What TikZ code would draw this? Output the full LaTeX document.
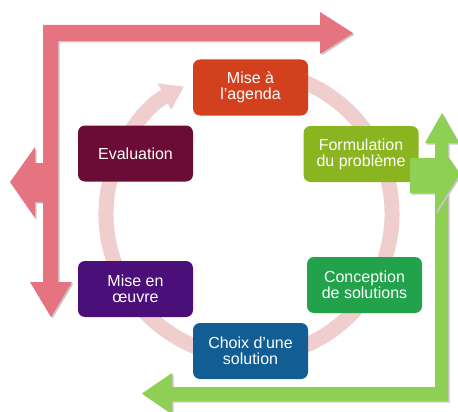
\documentclass[tikz,border=0pt]{standalone}
\usepackage{fontspec}
\setmainfont{Liberation Sans}
\usepackage{xcolor}
\usepackage{tikz}
\usetikzlibrary{arrows.meta}

\definecolor{arrowpink}{RGB}{229,116,128}
\definecolor{arrowgreen}{RGB}{142,208,83}
\definecolor{ringpink}{RGB}{240,206,206}
\definecolor{agendared}{RGB}{210,64,30}
\definecolor{formolive}{RGB}{138,181,32}
\definecolor{concgreen}{RGB}{34,162,74}
\definecolor{choixblue}{RGB}{18,94,148}
\definecolor{oeuvrepurple}{RGB}{74,15,120}
\definecolor{evalmaroon}{RGB}{106,12,53}

\tikzset{
    stagebox/.style={rounded corners=7pt, minimum width=115pt, minimum height=56pt,
        text=white, align=center, inner sep=2pt,
        font=\fontsize{16}{16}\selectfont},
    arrowshadow/.style={fill=black!22, shift={(1.5,1.5)}}
}

\begin{document}
\begin{tikzpicture}[x=1pt,y=-1pt]
    \useasboundingbox (0,0) rectangle (458,412);
    \clip (0,0) rectangle (458,412);

    % Cycle ring
    \draw[ringpink,line width=15pt,-{Triangle[width=28pt,length=22pt]}]
        (249,214) ++(-80:143) arc[start angle=-80, end angle=243, radius=143];

    % Pink arrow (top, left, bottom)
    \fill[arrowshadow] (43,25) -- (320,25) -- (320,12) -- (353,33) -- (320,54) -- (320,41)
        -- (58,41) -- (58,282) -- (72,282) -- (51,317) -- (30,282) -- (43,282) -- (43,202)
        -- (35,202) -- (35,218) -- (10,182) -- (35,147) -- (35,163) -- (43,163) -- cycle;
    \fill[arrowpink] (43,25) -- (320,25) -- (320,12) -- (353,33) -- (320,54) -- (320,41)
        -- (58,41) -- (58,282) -- (72,282) -- (51,317) -- (30,282) -- (43,282) -- (43,202)
        -- (35,202) -- (35,218) -- (10,182) -- (35,147) -- (35,163) -- (43,163) -- cycle;

    % Stages
    \node[stagebox,fill=agendared] (agenda) at (250.5,87.5) {Mise à\\l’agenda};
    \node[stagebox,fill=formolive] (formul) at (361,154) {Formulation\\du problème};
    \node[stagebox,fill=concgreen] (concep) at (364.5,285) {Conception\\de solutions};
    \node[stagebox,fill=choixblue] (choix) at (250.5,351) {Choix d’une\\solution};
    \node[stagebox,fill=oeuvrepurple] (oeuvre) at (135.5,289) {Mise en\\œuvre};
    \node[stagebox,fill=evalmaroon] (evalu) at (135.5,153.5) {Evaluation};

    % Green arrow (bottom, right, top)
    \fill[arrowshadow] (435,143) -- (425,143) -- (442,113) -- (459,143) -- (448,143)
        -- (448,401) -- (172,401) -- (172,414) -- (142,393.5) -- (172,373) -- (172,387)
        -- (435,387) -- cycle;
    \fill[arrowgreen] (435,143) -- (425,143) -- (442,113) -- (459,143) -- (448,143)
        -- (448,401) -- (172,401) -- (172,414) -- (142,393.5) -- (172,373) -- (172,387)
        -- (435,387) -- cycle;
    \fill[arrowshadow] (410,158) -- (449,158) -- (460,174) -- (435,213) -- (435,193)
        -- (410,193) -- cycle;
    \fill[arrowgreen] (410,158) -- (449,158) -- (460,174) -- (435,213) -- (435,193)
        -- (410,193) -- cycle;
\end{tikzpicture}
\end{document}
